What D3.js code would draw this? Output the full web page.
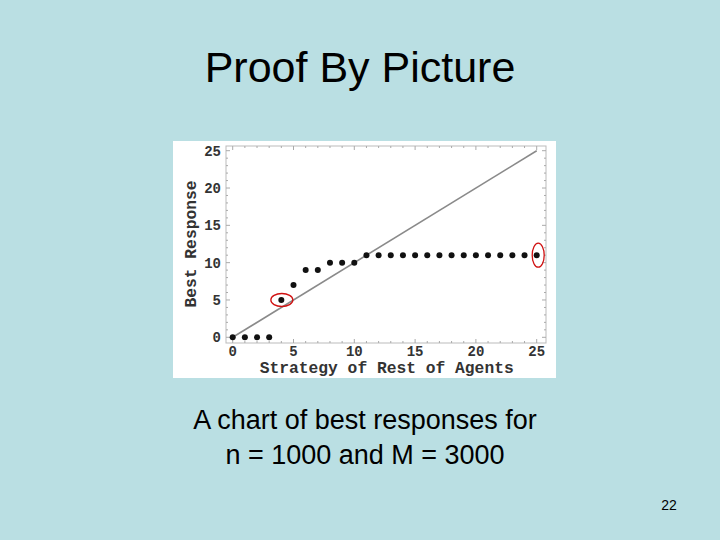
<!DOCTYPE html>
<html>
<head>
<meta charset="utf-8">
<script src="https://cdn.jsdelivr.net/npm/d3@7"></script>
<style>
  body { margin: 0; background: #badfe3; }
  .tick-label { font-family: "Liberation Mono", "DejaVu Sans Mono", monospace; font-weight: bold; fill: #333; }
</style>
</head>
<body>
<script>
// Chart data
var strategy = [0,1,2,3,4,5,6,7,8,9,10,11,12,13,14,15,16,17,18,19,20,21,22,23,24,25];
var bestResponse = [0,0,0,0,5,7,9,9,10,10,10,11,11,11,11,11,11,11,11,11,11,11,11,11,11,11];
var tickValues = [0,5,10,15,20,25];
var diagonal = [0,25];
var circled = [4,25];   // strategies that are marked in red

var svgWidth = 720, svgHeight = 540;

var svg = d3.select("body").append("svg")
  .attr("width", svgWidth)
  .attr("height", svgHeight);

svg.append("rect")
  .attr("width", svgWidth).attr("height", svgHeight)
  .attr("fill", "#badfe3");

// title
svg.append("text")
  .attr("x", 360).attr("y", 82)
  .attr("text-anchor", "middle")
  .attr("font-family", "Liberation Sans, Arial, sans-serif")
  .attr("font-size", 43)
  .attr("fill", "#000")
  .text("Proof By Picture");

// the picture of the plot
svg.append("rect")
  .attr("x", 173).attr("y", 141)
  .attr("width", 383).attr("height", 237)
  .attr("fill", "#fff");

// frame
var frame = { left: 226, right: 546, top: 146, bottom: 343 };

var xScale = d3.scaleLinear().domain([0, 25]).range([232.7, 536.7]);
var yScale = d3.scaleLinear().domain([0, 25]).range([337.3, 150.7]);

var chartGroup = svg.append("g");

chartGroup.append("rect")
  .attr("x", frame.left).attr("y", frame.top)
  .attr("width", frame.right - frame.left)
  .attr("height", frame.bottom - frame.top)
  .attr("fill", "none")
  .attr("stroke", "#bbb")
  .attr("stroke-width", 1);

// ticks on the frame, inside
var minor = d3.range(0, 26);
minor.forEach(function(v) {
  var len = tickValues.indexOf(v) >= 0 ? 4 : 2;
  var x = xScale(v), y = yScale(v);
  chartGroup.append("line").attr("x1", x).attr("x2", x).attr("y1", frame.bottom).attr("y2", frame.bottom - len);
  chartGroup.append("line").attr("x1", x).attr("x2", x).attr("y1", frame.top).attr("y2", frame.top + len);
  chartGroup.append("line").attr("y1", y).attr("y2", y).attr("x1", frame.left).attr("x2", frame.left + len);
  chartGroup.append("line").attr("y1", y).attr("y2", y).attr("x1", frame.right).attr("x2", frame.right - len);
});
chartGroup.selectAll("line").attr("stroke", "#aaa").attr("stroke-width", 1);

// tick labels
chartGroup.selectAll(".xt").data(tickValues).enter().append("text")
  .attr("class", "tick-label")
  .attr("x", d => xScale(d))
  .attr("y", 356)
  .attr("text-anchor", "middle")
  .attr("font-size", 14)
  .text(d => d);

chartGroup.selectAll(".yt").data(tickValues).enter().append("text")
  .attr("class", "tick-label")
  .attr("x", 221)
  .attr("y", d => yScale(d) + 5)
  .attr("text-anchor", "end")
  .attr("font-size", 14)
  .text(d => d);

// axis labels
chartGroup.append("text")
  .attr("class", "tick-label")
  .attr("x", xScale(12.5) + 2)
  .attr("y", 373)
  .attr("text-anchor", "middle")
  .attr("font-size", 16.3)
  .text("Strategy of Rest of Agents");

chartGroup.append("text")
  .attr("class", "tick-label")
  .attr("transform", "translate(196, 244) rotate(-90)")
  .attr("text-anchor", "middle")
  .attr("font-size", 16.3)
  .text("Best Response");

// diagonal line
chartGroup.append("line")
  .attr("x1", xScale(diagonal[0])).attr("y1", yScale(diagonal[0]))
  .attr("x2", xScale(diagonal[1])).attr("y2", yScale(diagonal[1]))
  .attr("stroke", "#8a8a8a")
  .attr("stroke-width", 1.6);

// points
chartGroup.selectAll("circle.pt").data(strategy).enter().append("circle")
  .attr("class", "pt")
  .attr("cx", d => xScale(d))
  .attr("cy", (d, i) => yScale(bestResponse[i]))
  .attr("r", 3)
  .attr("fill", "#111");

// red ellipses
chartGroup.append("ellipse")
  .attr("cx", xScale(circled[0]) + 0.5).attr("cy", yScale(bestResponse[circled[0]]))
  .attr("rx", 11).attr("ry", 6.5)
  .attr("fill", "none").attr("stroke", "#d01010").attr("stroke-width", 1.3);

chartGroup.append("ellipse")
  .attr("cx", xScale(circled[1]) + 1.5).attr("cy", yScale(bestResponse[circled[1]]))
  .attr("rx", 6).attr("ry", 12)
  .attr("fill", "none").attr("stroke", "#d01010").attr("stroke-width", 1.3);

// caption
svg.append("text")
  .attr("x", 365).attr("y", 429)
  .attr("text-anchor", "middle")
  .attr("font-family", "Liberation Sans, Arial, sans-serif")
  .attr("font-size", 27)
  .text("A chart of best responses for");

svg.append("text")
  .attr("x", 365).attr("y", 464)
  .attr("text-anchor", "middle")
  .attr("font-family", "Liberation Sans, Arial, sans-serif")
  .attr("font-size", 27)
  .text("n = 1000 and M = 3000");

// slide number
svg.append("text")
  .attr("x", 669).attr("y", 510)
  .attr("text-anchor", "middle")
  .attr("font-family", "Liberation Sans, Arial, sans-serif")
  .attr("font-size", 14)
  .text("22");
</script>
</body>
</html>
